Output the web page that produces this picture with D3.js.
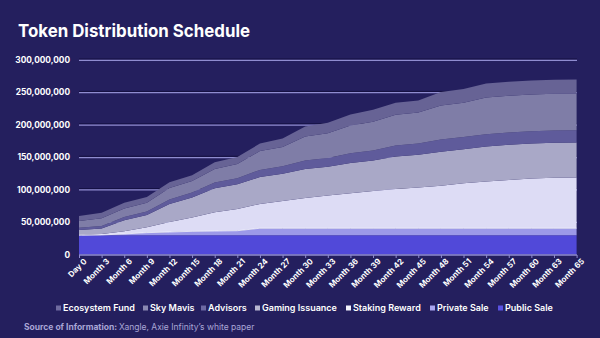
<!DOCTYPE html>
<html>
<head>
<meta charset="utf-8">
<script src="https://cdn.jsdelivr.net/npm/d3@7/dist/d3.min.js"></script>
<style>
  html, body { margin: 0; padding: 0; background: #241f5e; }
  svg { display: block; font-family: Inter, "Noto Sans", sans-serif; }
</style>
</head>
<body>
<div id="chart"></div>
<script>
const categories = ["Day 0", "Month 3", "Month 6", "Month 9", "Month 12", "Month 15", "Month 18",
    "Month 21", "Month 24", "Month 27", "Month 30", "Month 33", "Month 36", "Month 39", "Month 42",
    "Month 45", "Month 48", "Month 51", "Month 54", "Month 57", "Month 60", "Month 63", "Month 65"];

// values in millions of AXS, stacked bottom -> top
const publicSale = [29.7, 29.7, 29.7, 29.7, 29.7, 29.7, 29.7, 29.7, 29.7, 29.7, 29.7, 29.7,
    29.7, 29.7, 29.7, 29.7, 29.7, 29.7, 29.7, 29.7, 29.7, 29.7, 29.7];
const privateSale = [0, 0.5, 2, 4, 5, 6, 6.5, 7, 10.8, 10.8, 10.8, 10.8,
    10.8, 10.8, 10.8, 10.8, 10.8, 10.8, 10.8, 10.8, 10.8, 10.8, 10.8];
const stakingReward = [0, 1.3, 4.3, 8.3, 15.3, 21.3, 28.8, 33.5, 37.5, 42, 46.5, 50.4,
    54.1, 57.6, 60.7, 62.7, 65.4, 69.5, 72, 74.6, 76.6, 77.8, 78.3];
const gamingIssuance = [8, 8.5, 17, 19, 28, 31, 37, 38, 41.5, 42, 45, 44.5,
    46.4, 47, 50, 50.6, 52.5, 52.5, 54, 54, 54, 54, 54];
const advisors = [3.5, 4, 5, 5.5, 7, 7.5, 9, 9.5, 11, 11.5, 13, 13.5,
    15, 15.5, 17, 17.5, 18.9, 18.9, 18.9, 18.9, 18.9, 18.9, 18.9];
const skyMavis = [10.4, 12, 13, 13.5, 17.5, 18, 21, 22, 29, 30, 37, 38,
    43, 44, 47.3, 47.7, 52.5, 52.7, 56.7, 56.7, 56.7, 56.7, 56.7];
const ecosystemFund = [7.7, 8.5, 8.8, 8.8, 8.8, 8.8, 10.3, 10.8, 11.6, 13, 15.4, 16.3,
    17.1, 18.5, 18.5, 18.6, 21, 21, 21.6, 21.6, 21.6, 21.6, 21.6];

const yTicks = [0, 50000000, 100000000, 150000000, 200000000, 250000000, 300000000];

const seriesNames = ["Public Sale", "Private Sale", "Staking Reward", "Gaming Issuance",
    "Advisors", "Sky Mavis", "Ecosystem Fund"];
const seriesValues = [publicSale, privateSale, stakingReward, gamingIssuance,
    advisors, skyMavis, ecosystemFund];
const legendOrder = ["Ecosystem Fund", "Sky Mavis", "Advisors", "Gaming Issuance",
    "Staking Reward", "Private Sale", "Public Sale"];

const COLORS = {
    background: "#241f5e",
    "Public Sale": "#5149d9",
    "Private Sale": "#9c99e8",
    "Staking Reward": "#dddcf5",
    "Gaming Issuance": "#a9a8c7",
    "Advisors": "#5f5b9b",
    "Sky Mavis": "#7f7da7",
    "Ecosystem Fund": "#676395",
    grid: "#8f8cd0",
    gridShadow: "#141040",
    text: "#ffffff",
    source: "#a9a6d6",
};

const LEGEND_COLORS = {
    "Ecosystem Fund": "#6f6b9f",
    "Sky Mavis": "#8a88b2",
    "Advisors": "#6d69a3",
    "Gaming Issuance": "#b9b7d2",
    "Staking Reward": "#f2f2fb",
    "Private Sale": "#a9a6f0",
    "Public Sale": "#5a52e2",
};

const width = 600;
const height = 338;

const rows = categories.map((cat, i) => {
    const row = { cat };
    seriesNames.forEach((name, s) => { row[name] = seriesValues[s][i] * 1e6; });
    return row;
});

const svg = d3.select("#chart").append("svg")
    .attr("width", width)
    .attr("height", height);

svg.append("rect").attr("width", width).attr("height", height).attr("fill", COLORS.background);

svg.append("text")
    .attr("x", 18)
    .attr("y", 37)
    .attr("fill", COLORS.text)
    .attr("textLength", 232)
    .attr("lengthAdjust", "spacingAndGlyphs")
    .style("font-size", "18px")
    .style("font-weight", "700")
    .text("Token Distribution Schedule");

const x = d3.scalePoint().domain(categories).range([79, 576.6]);
const y = d3.scaleLinear().domain([0, 300000000]).range([254.5, 60]);

// gridlines
const grid = svg.append("g");
yTicks.filter((t) => t > 0).forEach((t) => {
    grid.append("line")
        .attr("x1", 79).attr("x2", 577)
        .attr("y1", y(t) - 1).attr("y2", y(t) - 1)
        .attr("stroke", COLORS.gridShadow).attr("stroke-width", 1);
    grid.append("line")
        .attr("x1", 79).attr("x2", 577)
        .attr("y1", y(t) + 0.3).attr("y2", y(t) + 0.3)
        .attr("stroke", COLORS.grid).attr("stroke-width", 1.3);
});

const stack = d3.stack().keys(seriesNames);
const layers = stack(rows);

const area = d3.area()
    .x((d) => x(d.data.cat))
    .y0((d) => y(d[0]))
    .y1((d) => y(d[1]));

svg.append("g")
    .selectAll("path")
    .data(layers)
    .enter()
    .append("path")
    .attr("d", area)
    .attr("fill", (d) => COLORS[d.key]);

// thin light edge on top of private sale
svg.append("path")
    .attr("d", d3.line().x((d) => x(d.data.cat)).y((d) => y(d[1]))(layers[1]))
    .attr("fill", "none")
    .attr("stroke", "#f4f4ff")
    .attr("stroke-width", 0.8);

// y axis labels
svg.append("g")
    .selectAll("text")
    .data(yTicks)
    .enter()
    .append("text")
    .attr("x", 70)
    .attr("y", (d) => y(d) + 3)
    .attr("text-anchor", "end")
    .attr("fill", COLORS.text)
    .style("font-size", "8.3px")
    .style("font-weight", "700")
    .text((d) => d3.format(",")(d));

// x axis
const xAxis = d3.axisBottom(x).tickSize(3).tickPadding(3);
svg.append("g")
    .attr("transform", "translate(0,255)")
    .call(xAxis)
    .call((g) => {
        g.select(".domain").attr("stroke", COLORS.grid).attr("stroke-width", 1.5)
            .attr("d", "M79,0H577");
        g.selectAll(".tick line").attr("stroke", COLORS.grid);
        g.selectAll(".tick text")
            .attr("fill", COLORS.text)
            .attr("text-anchor", "end")
            .attr("transform", "translate(3,2) rotate(-45)")
            .attr("y", 4)
            .attr("x", 0)
            .attr("dy", "0.35em")
            .style("font-size", "8px")
            .style("font-weight", "700")
            .style("font-family", "Inter, sans-serif");
    });

// legend
const legendX = [56, 143, 201, 255, 346, 430, 498];
const legend = svg.append("g")
    .selectAll("g")
    .data(legendOrder)
    .enter()
    .append("g")
    .attr("transform", (d, i) => `translate(${legendX[i]},308)`);

legend.append("rect")
    .attr("x", 0).attr("y", -2.5)
    .attr("width", 5).attr("height", 5)
    .attr("fill", (d) => LEGEND_COLORS[d]);

legend.append("text")
    .attr("x", 7)
    .attr("y", 3.2)
    .attr("fill", COLORS.text)
    .style("font-size", "9px")
    .style("font-weight", "600")
    .text((d) => d);

const source = svg.append("text")
    .attr("x", 24)
    .attr("y", 330)
    .attr("fill", COLORS.source)
    .style("font-size", "8.5px");
source.append("tspan").style("font-weight", "700").text("Source of Information: ");
source.append("tspan").style("font-weight", "400").text("Xangle, Axie Infinity\u2019s white paper");
</script>
</body>
</html>
